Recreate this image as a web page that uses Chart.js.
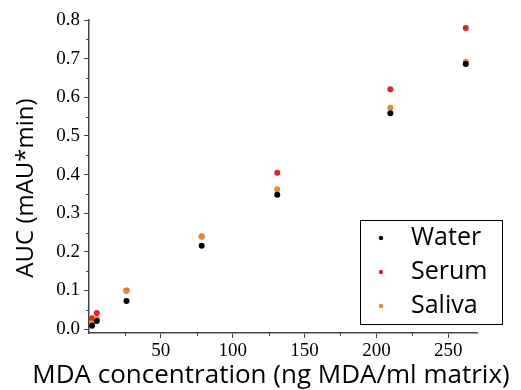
<!DOCTYPE html>
<html>
<head>
<meta charset="utf-8">
<script src="https://cdn.jsdelivr.net/npm/chart.js@4"></script>
<style>
  html, body { margin: 0; padding: 0; background: #fff; }
  #wrap { width: 521px; height: 390px; }
</style>
</head>
<body>
<div id="wrap"><canvas id="auc-chart" width="521" height="390"></canvas></div>
<script>
// MDA concentration (ng/ml) and AUC for each matrix
const concentrations = [2.1, 5.4, 26.1, 78.4, 131, 209.7, 262.2];
const waterAuc  = [0.009, 0.021, 0.073, 0.216, 0.348, 0.559, 0.686];
const serumAuc  = [0.028, 0.042, 0.100, 0.240, 0.405, 0.621, 0.779];
const salivaAuc = [0.015, 0.027, 0.099, 0.240, 0.362, 0.573, 0.692];

const seriesNames = ['Water', 'Serum', 'Saliva'];
const seriesColors = ['#000000', '#ec1c24', '#e8892b'];

const xTicks = [50, 100, 150, 200, 250];
const xMinorTicks = [25, 75, 125, 175, 225];
const yTicks = [0, 0.1, 0.2, 0.3, 0.4, 0.5, 0.6, 0.7, 0.8];
const yMinorTicks = [0.05, 0.15, 0.25, 0.35, 0.45, 0.55, 0.65, 0.75];

const xTitle = 'MDA concentration (ng MDA/ml matrix)';
const yTitle = 'AUC (mAU*min)';

const axisColor = '#444';
const serifFont = '"Liberation Serif", serif';
const sansFont = '"Open Sans", sans-serif';

function toPoints(values) {
    return concentrations.map((c, i) => ({ x: c, y: values[i] }));
}

// Petites graduations secondaires (pas gérées par Chart.js)
const minorTicksPlugin = {
    id: 'minorTicks',
    afterDraw(chart) {
        const ctx = chart.ctx;
        const xs = chart.scales.x;
        const ys = chart.scales.y;
        ctx.save();
        ctx.strokeStyle = axisColor;
        ctx.lineWidth = 1;
        xMinorTicks.forEach(v => {
            const px = Math.round(xs.getPixelForValue(v)) + 0.5;
            ctx.beginPath();
            ctx.moveTo(px, xs.top);
            ctx.lineTo(px, xs.top + 3);
            ctx.stroke();
        });
        yMinorTicks.forEach(v => {
            const py = Math.round(ys.getPixelForValue(v)) + 0.5;
            ctx.beginPath();
            ctx.moveTo(ys.right, py);
            ctx.lineTo(ys.right - 3, py);
            ctx.stroke();
        });
        ctx.restore();
    }
};

// Titres des axes : plus larges que la zone du graphique, donc dessinés à la main
const axisTitlesPlugin = {
    id: 'axisTitles',
    afterDraw(chart) {
        const ctx = chart.ctx;
        ctx.save();
        ctx.fillStyle = '#000';
        ctx.textAlign = 'center';
        ctx.textBaseline = 'alphabetic';
        ctx.font = '26px ' + sansFont;
        ctx.fillText(xTitle, 271, 383);
        ctx.font = '24px ' + sansFont;
        ctx.translate(33, 188);
        ctx.rotate(-Math.PI / 2);
        ctx.fillText(yTitle, 0, 0);
        ctx.restore();
    }
};

// Légende encadrée dans le coin inférieur droit
const boxLegendPlugin = {
    id: 'boxLegend',
    afterDraw(chart) {
        const ctx = chart.ctx;
        const box = { left: 360, top: 220, width: 142, height: 104 };
        ctx.save();
        ctx.fillStyle = '#fff';
        ctx.fillRect(box.left, box.top, box.width, box.height);
        ctx.strokeStyle = '#000';
        ctx.lineWidth = 1;
        ctx.strokeRect(box.left + 0.5, box.top + 0.5, box.width, box.height);
        ctx.font = '25px ' + sansFont;
        ctx.textBaseline = 'middle';
        ctx.textAlign = 'left';
        seriesNames.forEach((name, i) => {
            const y = box.top + 18 + i * 34;
            ctx.fillStyle = seriesColors[i];
            ctx.beginPath();
            ctx.arc(381, y, 2.2, 0, Math.PI * 2);
            ctx.fill();
            ctx.fillStyle = '#000';
            ctx.fillText(name, 411, y);
        });
        ctx.restore();
    }
};

const ctx = document.getElementById('auc-chart').getContext('2d');
const chart = new Chart(ctx, {
    type: 'scatter',
    data: {
        datasets: [waterAuc, serumAuc, salivaAuc].map((vals, i) => ({
            label: seriesNames[i],
            data: toPoints(vals),
            backgroundColor: seriesColors[i],
            borderColor: seriesColors[i],
            pointRadius: 3,
            pointBorderWidth: 0,
            order: [0, 2, 1][i]
        }))
    },
    options: {
        responsive: false,
        animation: false,
        layout: { padding: { left: 0, top: 20, right: 44, bottom: 0 } },
        plugins: {
            legend: { display: false },
            tooltip: { enabled: false }
        },
        scales: {
            x: {
                type: 'linear',
                position: 'bottom',
                min: 0,
                max: 270,
                afterBuildTicks: s => { s.ticks = xTicks.map(v => ({ value: v })); },
                afterFit: s => { s.height = 57; },
                border: { color: axisColor, width: 1.5 },
                grid: { drawOnChartArea: false, tickLength: 5, color: axisColor },
                ticks: { color: '#000', font: { family: serifFont, size: 19 }, padding: 2, maxRotation: 0 }
            },
            y: {
                type: 'linear',
                min: -0.01,
                max: 0.8,
                afterBuildTicks: s => { s.ticks = yTicks.map(v => ({ value: v })); },
                afterFit: s => { s.width = 89; },
                border: { color: axisColor, width: 1.5 },
                grid: { drawOnChartArea: false, tickLength: 5, color: axisColor },
                ticks: {
                    color: '#000',
                    font: { family: serifFont, size: 19 },
                    padding: 4,
                    callback: v => v.toFixed(1)
                }
            }
        }
    },
    plugins: [minorTicksPlugin, axisTitlesPlugin, boxLegendPlugin]
});
</script>
</body>
</html>
